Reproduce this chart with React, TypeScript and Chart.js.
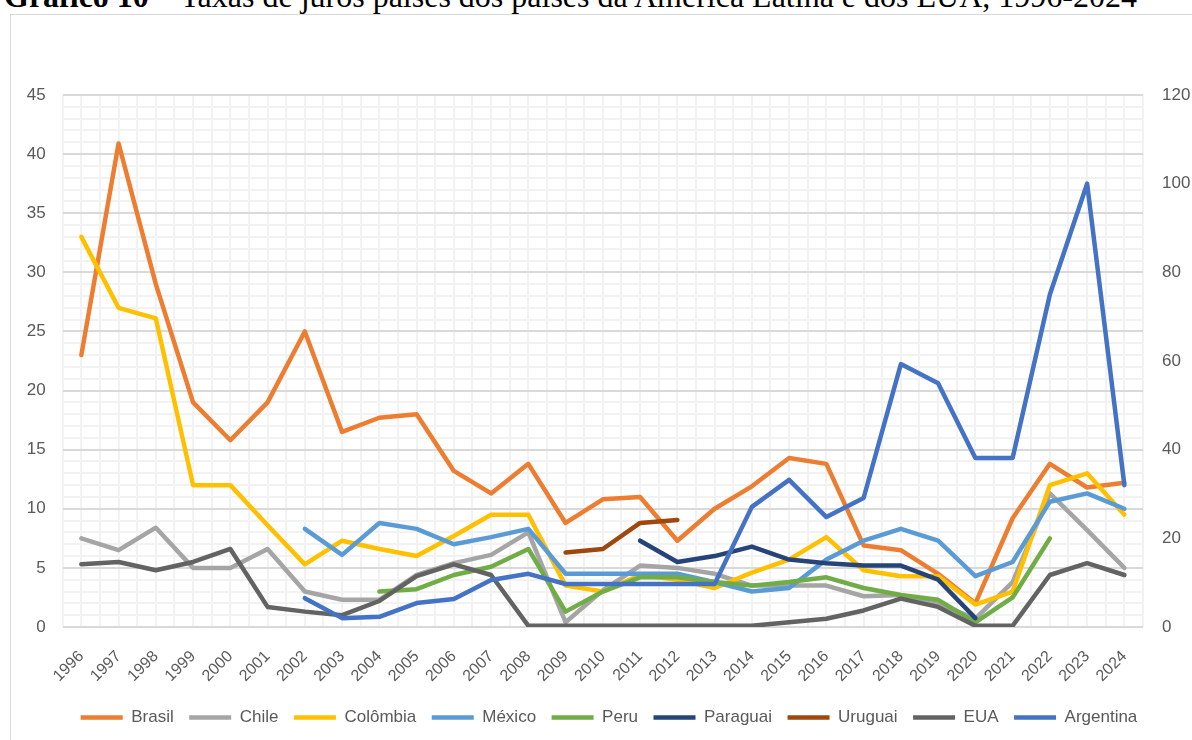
import React, { useEffect, useRef } from "react";
import { Chart, registerables } from "chart.js";

Chart.register(...registerables);

const years = [
  1996, 1997, 1998, 1999, 2000, 2001, 2002, 2003, 2004, 2005, 2006, 2007, 2008, 2009, 2010,
  2011, 2012, 2013, 2014, 2015, 2016, 2017, 2018, 2019, 2020, 2021, 2022, 2023, 2024,
];

const leftTicks = [0, 5, 10, 15, 20, 25, 30, 35, 40, 45];
const rightTicks = [0, 20, 40, 60, 80, 100, 120];

const brasil = [23, 40.9, 29, 19, 15.8, 19, 25, 16.5, 17.7, 18, 13.2, 11.3, 13.8, 8.8, 10.8, 11, 7.3, 10, 11.9, 14.3, 13.8, 6.9, 6.5, 4.5, 2, 9.2, 13.8, 11.8, 12.2];
const chile = [7.5, 6.5, 8.4, 5, 5, 6.6, 3, 2.3, 2.3, 4.4, 5.4, 6.1, 8.0, 0.4, 3.1, 5.2, 5.0, 4.5, 3.5, 3.5, 3.5, 2.6, 2.7, 2.0, 0.7, 3.8, 11.3, 8.2, 5.0];
const colombia = [33, 27, 26.1, 12, 12, 8.6, 5.3, 7.3, 6.6, 6.0, 7.7, 9.5, 9.5, 3.5, 3.0, 4.4, 4.0, 3.3, 4.6, 5.7, 7.6, 4.8, 4.3, 4.3, 1.9, 3.0, 12.0, 13.0, 9.5];
const mexico = [null, null, null, null, null, null, 8.3, 6.1, 8.8, 8.3, 7.0, 7.6, 8.3, 4.5, 4.5, 4.5, 4.5, 3.8, 3.0, 3.3, 5.7, 7.3, 8.3, 7.3, 4.3, 5.5, 10.6, 11.3, 10.0];
const peru = [null, null, null, null, null, null, null, null, 3.0, 3.2, 4.4, 5.1, 6.6, 1.3, 3.0, 4.2, 4.2, 3.8, 3.5, 3.8, 4.2, 3.3, 2.7, 2.3, 0.4, 2.5, 7.5, null, null];
const paraguai = [null, null, null, null, null, null, null, null, null, null, null, null, null, null, null, 7.3, 5.5, 6.0, 6.8, 5.7, 5.4, 5.2, 5.2, 4.0, 0.75, null, null, null, null];
const uruguai = [null, null, null, null, null, null, null, null, null, null, null, null, null, 6.3, 6.6, 8.8, 9.05, null, null, null, null, null, null, null, null, null, null, null, null];
const eua = [5.3, 5.5, 4.8, 5.5, 6.6, 1.7, 1.3, 1.0, 2.2, 4.3, 5.3, 4.4, 0.1, 0.1, 0.1, 0.1, 0.1, 0.1, 0.1, 0.4, 0.7, 1.4, 2.4, 1.7, 0.1, 0.1, 4.4, 5.4, 4.4];
// Argentina is plotted on the secondary (right) axis
const argentina = [null, null, null, null, null, null, 6.5, 2.0, 2.3, 5.4, 6.3, 10.6, 12.0, 9.7, 9.7, 9.7, 9.7, 9.7, 27.1, 33.2, 24.8, 29.1, 59.3, 55.0, 38.1, 38.1, 75, 100, 32];

const seriesNames = ["Brasil", "Chile", "Colômbia", "México", "Peru", "Paraguai", "Uruguai", "EUA", "Argentina"];
const seriesValues = [brasil, chile, colombia, mexico, peru, paraguai, uruguai, eua, argentina];
const seriesColors = ["#ED7D31", "#A5A5A5", "#FFC000", "#5B9BD5", "#70AD47", "#264478", "#9E480E", "#636363", "#4472C4"];
const seriesAxis = ["y", "y", "y", "y", "y", "y", "y", "y", "y1"];

const FONT = "'Liberation Sans', Arial, sans-serif";
const TEXT = "#595959";

export default function App() {
  const ref = useRef<HTMLCanvasElement>(null);

  useEffect(() => {
    if (!ref.current) return;
    const n = seriesNames.length;
    const datasets = seriesNames.map((name, i) => ({
      label: name,
      data: years.map((yr, j) => ({ x: yr, y: seriesValues[i][j] })),
      borderColor: seriesColors[i],
      backgroundColor: seriesColors[i],
      borderWidth: 4.5,
      pointRadius: 0,
      pointHoverRadius: 0,
      borderCapStyle: "round" as const,
      borderJoinStyle: "round" as const,
      tension: 0,
      spanGaps: false,
      yAxisID: seriesAxis[i],
      order: n - i,
    }));

    const chart = new Chart(ref.current, {
      type: "line",
      data: { datasets },
      options: {
        animation: false,
        responsive: false,
        maintainAspectRatio: false,
        layout: { padding: { left: 26, right: 0, top: 95, bottom: 4 } },
        plugins: {
          tooltip: { enabled: false },
          legend: {
            position: "bottom",
            labels: {
              usePointStyle: true,
              pointStyle: "line",
              pointStyleWidth: 42,
              boxHeight: 4,
              padding: 15.5,
              color: TEXT,
              font: { family: FONT, size: 17 },
              sort: (a: any, b: any) => a.datasetIndex - b.datasetIndex,
            },
          },
        },
        scales: {
          x: {
            type: "linear",
            position: "bottom",
            min: years[0] - 0.5,
            max: years[years.length - 1] + 0.5,
            afterFit: (s: any) => {
              s.height = 66.5;
            },
            ticks: {
              stepSize: 0.5,
              autoSkip: false,
              minRotation: 45,
              maxRotation: 45,
              padding: 20,
              color: TEXT,
              font: { family: FONT, size: 16 },
              callback: (v: any) => (years.includes(v) ? String(v) : ""),
            },
            grid: { color: "#f2f2f2", lineWidth: 2, drawTicks: false, z: -2 },
            border: { display: false },
          },
          y: {
            position: "left",
            min: 0,
            max: 45,
            afterFit: (s: any) => {
              s.width = 36.7;
            },
            ticks: {
              stepSize: 1,
              autoSkip: false,
              padding: 17,
              color: TEXT,
              font: { family: FONT, size: 17 },
              callback: (v: any) => (leftTicks.includes(v) ? String(v) : ""),
            },
            grid: {
              color: (c: any) => (c.tick && leftTicks.includes(c.tick.value) ? "#d9d9d9" : "#f2f2f2"),
              lineWidth: 2,
              drawTicks: false,
              z: -1,
            },
            border: { display: false },
          },
          y1: {
            position: "right",
            min: 0,
            max: 120,
            afterFit: (s: any) => {
              s.width = 49;
            },
            ticks: {
              stepSize: 20,
              autoSkip: false,
              padding: 19,
              color: TEXT,
              font: { family: FONT, size: 17 },
              callback: (v: any) => (rightTicks.includes(v) ? String(v) : ""),
            },
            grid: { display: false, drawTicks: false },
            border: { display: false },
          },
        },
      },
    });
    return () => chart.destroy();
  }, []);

  return (
    <div
      style={{
        position: "fixed",
        left: 0,
        top: 0,
        width: 1192,
        height: 740,
        overflow: "hidden",
        background: "#ffffff",
      }}
    >
      <div
        style={{
          position: "absolute",
          left: 4,
          top: -20,
          whiteSpace: "nowrap",
          fontFamily: "'Liberation Serif', 'Times New Roman', serif",
          fontSize: 32,
          lineHeight: "32px",
          color: "#000",
        }}
      >
        <b>Gráfico 10</b> – Taxas de juros países dos países da América Latina e dos EUA, 1996-2024
      </div>
      <div
        style={{
          position: "absolute",
          left: 10,
          top: 14,
          width: 1220,
          height: 800,
          border: "1px solid #d9d9d9",
          boxSizing: "border-box",
        }}
      />
      <canvas
        ref={ref}
        width={1192}
        height={740}
        style={{ position: "absolute", left: 0, top: 0, display: "block", width: 1192, height: 740 }}
      />
    </div>
  );
}
